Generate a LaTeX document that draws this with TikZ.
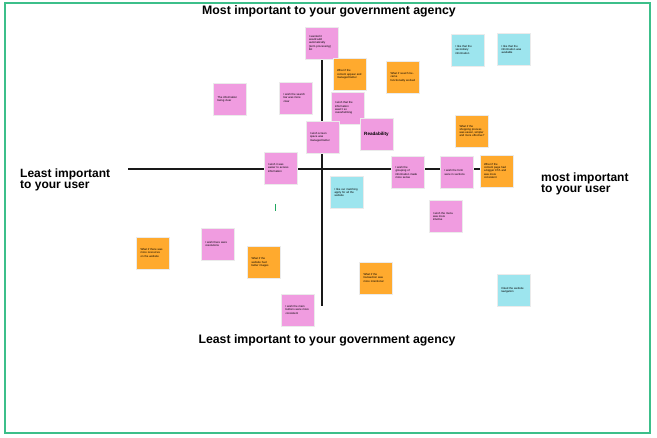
\documentclass[tikz,border=0pt]{standalone}
\usepackage{fontspec}
\setmainfont{Liberation Sans}
\definecolor{frame}{HTML}{3CBF8A}
\definecolor{pinknote}{HTML}{F09CE0}
\definecolor{orangenote}{HTML}{FFAA2E}
\definecolor{cyannote}{HTML}{9DE5EE}
\definecolor{markgreen}{HTML}{1FA85E}
\begin{document}
\begin{tikzpicture}[x=1pt,y=-1pt,
  note/.style={minimum width=33pt, minimum height=32pt, inner xsep=4pt, inner ysep=2pt,
    text width=25pt, align=left, font=\fontsize{2.8}{3.3}\selectfont,
    draw=black!8, line width=0.3pt},
  pinkn/.style={note, fill=pinknote},
  orangen/.style={note, fill=orangenote},
  cyann/.style={note, fill=cyannote},
  heading/.style={font=\fontsize{12.3}{14}\selectfont\bfseries},
  sidelabel/.style={font=\fontsize{12}{11.5}\selectfont\bfseries, align=left, anchor=west, inner sep=0pt},
  axisline/.style={line width=1.5pt, black!90}]
\useasboundingbox (0,0) rectangle (657,438);
\fill[white] (0,0) rectangle (657,438);
\draw[frame, line width=2pt] (4.5,3.5) rectangle (649.5,433.5);

% headings
\node[heading] (top) at (329,11) {Most important to your government agency};
\node[heading] (bottom) at (327,340) {Least important to your government agency};
\node[sidelabel] (left) at (20,180) {Least important\\to your user};
\node[sidelabel] (right) at (541,184) {most important\\to your user};

% axes
\coordinate (hl) at (128,169);
\coordinate (hr) at (490,169);
\coordinate (vt) at (322,58);
\coordinate (vb) at (322,306);
\draw[axisline] (hl) -- (hr);
\draw[axisline] (vt) -- (vb);

% green mark
\coordinate (gm1) at (275.5,204);
\coordinate (gm2) at (275.5,211);
\draw[markgreen, line width=1.3pt] (gm1) -- (gm2);

% notes
\node[pinkn] (p1) at (321.5,43) {I wanted it\\would add\\automatically\\(term processing)\\list};
\node[orangen] (o1) at (349.5,74.5) {What if the\\content appear and\\managed better};
\node[orangen] (o2) at (403,77) {What if search became\\functionality worked};
\node[cyann] (c1) at (468,50) {I like that the\\secondary\\information};
\node[cyann] (c2) at (514,49.5) {I like that the\\information was\\available};
\node[pinkn] (p2) at (230,99.5) {The information\\being clear};
\node[pinkn] (p3) at (296,98) {I wish the search\\bar was more\\clear};
\node[pinkn] (p4) at (347.5,108) {I wish that the\\information\\wasn't so\\overwhelming};
\node[pinkn] (p5) at (322.5,137) {I wish screen\\space was\\managed better};
\node[pinkn, align=center, font=\fontsize{4.6}{5}\selectfont\bfseries] (p6) at (376.5,134) {Readability};
\node[orangen] (o3) at (472,131) {What if the\\shopping process\\was easier, simpler\\and more effective?};
\node[pinkn] (p7) at (280.5,168) {I wish it was\\easier to access\\information};
\node[pinkn] (p8) at (408,172.5) {I wish the\\grouping of\\information made\\more sense};
\node[pinkn] (p9) at (457,172.5) {I wish the form\\were in sections};
\node[orangen] (o4) at (496.5,171) {What if the\\content page had\\a bigger CTA and\\was more\\consistent};
\node[cyann] (c3) at (347,192.5) {I like our matching\\apply for all the\\website};
\node[pinkn] (p10) at (445.5,216.5) {I wish the menu\\was more\\intuitive};
\node[orangen] (o5) at (153,253) {What if there was\\more resources\\on the website};
\node[pinkn] (p11) at (218,244) {I wish there were\\resolutions};
\node[orangen] (o6) at (264,262.5) {What if the\\website had\\better images};
\node[pinkn] (p12) at (298,310) {I wish the main\\buttons were more\\consistent};
\node[orangen] (o7) at (376,278) {What if the\\transaction was\\more intentional};
\node[cyann] (c4) at (513.5,290.5) {I liked the website\\navigation};
\end{tikzpicture}
\end{document}
